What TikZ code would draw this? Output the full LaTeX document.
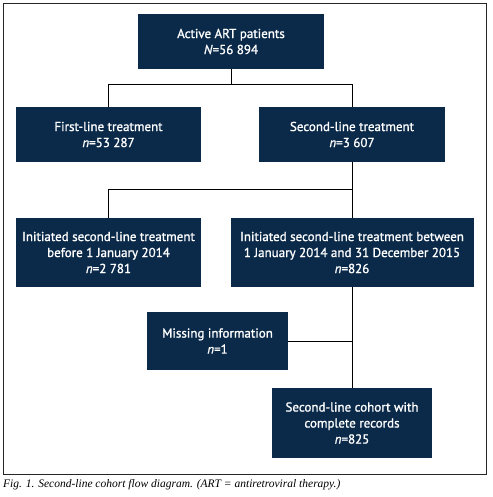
\documentclass[tikz,border=0pt]{standalone}
\usepackage{fontspec}
\setmainfont{PT Sans}
\newfontfamily\boxfont[FakeBold=1.2]{PT Sans}
\newfontfamily\capfont{Liberation Serif}
\usetikzlibrary{positioning}
\definecolor{boxblue}{HTML}{0B2A4A}

\begin{document}
\begin{tikzpicture}[x=1pt, y=-1pt,
    box/.style={fill=boxblue, text=white, align=center, inner sep=0pt,
        font=\boxfont\fontsize{13}{16}\selectfont},
    link/.style={draw=black, line width=0.6pt}]
\useasboundingbox (0,0) rectangle (492,497);
% Outer frame
\draw[line width=0.8pt, black!85] (3.3,3.3) rectangle (486.7,474.5);

% Boxes
\node[box, minimum width=186pt, minimum height=55pt] (art) at (231,41.5)
    {Active ART patients\\\textit{N}=56 894};
\node[box, minimum width=185pt, minimum height=55pt] (first) at (108.5,134.5)
    {First-line treatment\\\textit{n}=53 287};
\node[box, minimum width=186pt, minimum height=55pt] (second) at (352,134.5)
    {Second-line treatment\\\textit{n}=3 607};
\node[box, minimum width=185pt, minimum height=69pt] (before) at (108.5,252.5)
    {Initiated second-line treatment\\before 1 January 2014\\\textit{n}=2 781};
\node[box, minimum width=243pt, minimum height=69pt] (between) at (352,252.5)
    {Initiated second-line treatment between\\1 January 2014 and 31 December 2015\\\textit{n}=826};
\node[box, minimum width=141pt, minimum height=58pt] (missing) at (217.5,341)
    {Missing information\\\textit{n}=1};
\node[box, minimum width=160pt, minimum height=70pt] (cohort) at (352,423)
    {Second-line cohort with\\complete records\\\textit{n}=825};

% Connectors
\draw[link] (art.south) -- ++(0,15) coordinate (split1) -| (first.north);
\draw[link] (split1) -| (second.north);
\path (second.south) ++(0,27) coordinate (split2);
\draw[link] (second.south) -- (between.north);
\draw[link] (split2) -| (before.north);
\draw[link] (between.south) -- (cohort.north);
\draw[link] (missing.east) -- (missing.east -| between.south);

% Caption
\node[anchor=west, inner sep=0pt, font=\capfont\itshape\fontsize{11.5}{13}\selectfont] (caption) at (3,485)
    {Fig. 1. Second-line cohort flow diagram. (ART = antiretroviral therapy.)};
\end{tikzpicture}
\end{document}
